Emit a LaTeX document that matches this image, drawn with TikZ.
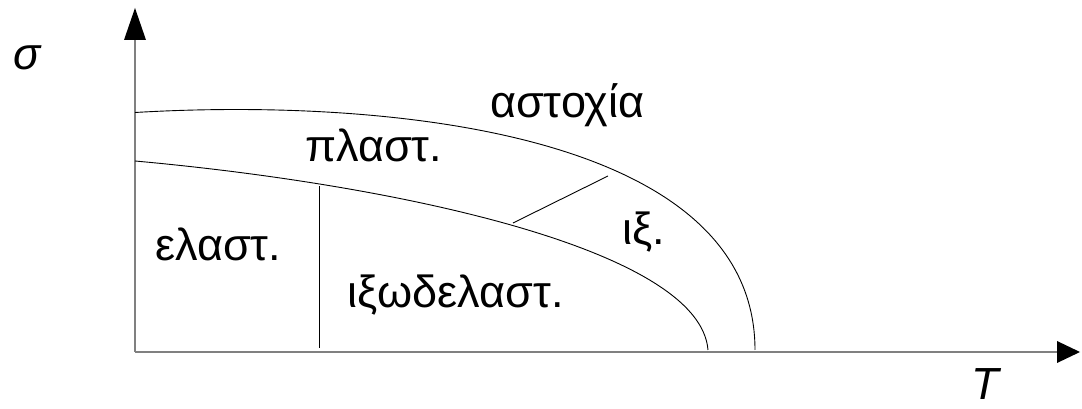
\documentclass[tikz,border=0pt]{standalone}
\usepackage{fontspec}
\setmainfont{Liberation Sans}
\usetikzlibrary{arrows.meta}
\tikzset{
  axis/.style={draw=black!50, line width=2pt},
  curve/.style={draw=black, line width=0.9pt},
  lbl/.style={inner sep=0pt, anchor=base west, font=\fontsize{45}{50}\selectfont},
  ilbl/.style={inner sep=0pt, font=\fontsize{45}{50}\selectfont\itshape}
}
\begin{document}
\begin{tikzpicture}[x=1pt,y=1pt]
\useasboundingbox (0,0) rectangle (1082,409);
% axes (y' = 409 - y)
\coordinate (O) at (135,57);
\coordinate (Ytop) at (135,401);
\coordinate (Xend) at (1080,57);
\draw[axis] (135,57) -- (135,369);
\fill[black] (135,401) -- (124,369) -- (146,369) -- cycle;
\draw[axis] (135,57) -- (1057,57);
\fill[black] (1080,57) -- (1057,68) -- (1057,46) -- cycle;
% curves
\coordinate (U0) at (135,296.5);
\coordinate (U1) at (755,59);
\coordinate (L0) at (135,248);
\coordinate (L1) at (708,59);
\draw[curve] (U0) .. controls (380,311) and (755,279) .. (U1);
\draw[curve] (L0) .. controls (400,224) and (700,159) .. (L1);
% separators
\coordinate (V0) at (319,223);
\coordinate (V1) at (319,61);
\draw[curve] (V0) -- (V1);
\coordinate (S0) at (513,186);
\coordinate (S1) at (608,233);
\draw[curve] (S0) -- (S1);
% labels
\node[ilbl] (sigma) at (27,351) {σ};
\node[ilbl] (T) at (985,25) {T};
\node[lbl] (fail) at (490,291) {αστοχία};
\node[lbl] (plast) at (305,247) {πλαστ.};
\node[lbl] (elast) at (155,148) {ελαστ.};
\node[lbl] (ix) at (622,164) {ιξ.};
\node[lbl] (visco) at (347,101) {ιξωδελαστ.};
\end{tikzpicture}
\end{document}
